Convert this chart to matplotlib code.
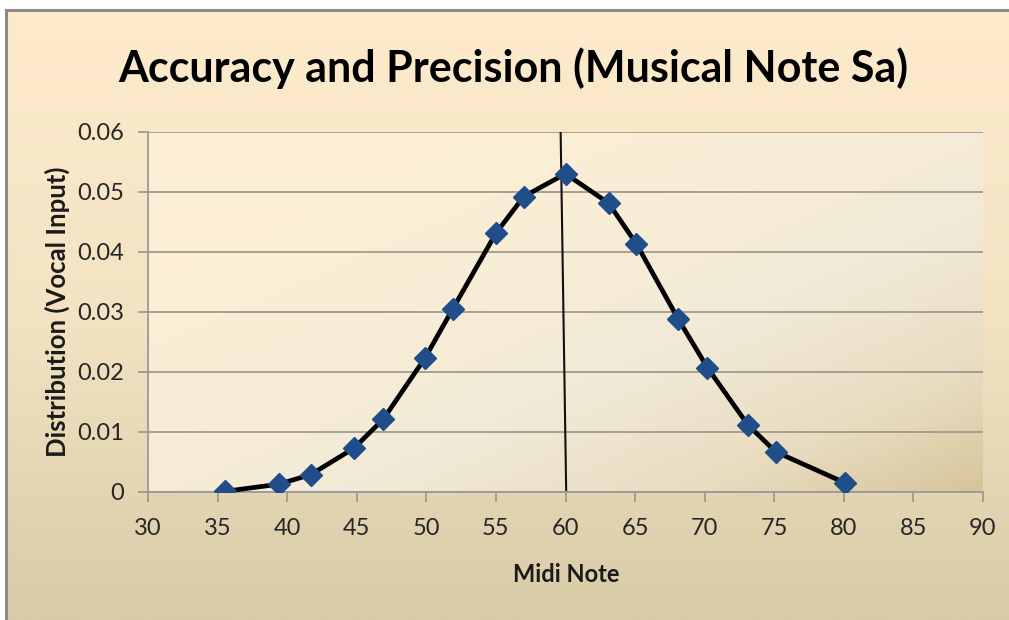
import numpy as np
import matplotlib
matplotlib.use('Agg')
import matplotlib.pyplot as plt
from matplotlib.colors import LinearSegmentedColormap

# Data
midi_note = [35.5, 39.4, 41.7, 44.8, 46.9, 49.9, 51.9, 55.0, 57.0, 60.0,
             63.1, 65.1, 68.1, 70.2, 73.1, 75.1, 80.1]
distribution = [0.0001, 0.0013, 0.0029, 0.0073, 0.0121, 0.0223, 0.0305, 0.0431,
                0.0492, 0.0530, 0.0481, 0.0413, 0.0288, 0.0207, 0.0112, 0.0067,
                0.0015]

# the reference marker line (slightly slanted in the original)
marker_x = [59.65, 60.05]
marker_y = [0.06, 0.0]

x_ticks = [30, 35, 40, 45, 50, 55, 60, 65, 70, 75, 80, 85, 90]
y_ticks = [0, 0.01, 0.02, 0.03, 0.04, 0.05, 0.06]
y_tick_labels = ['0', '0.01', '0.02', '0.03', '0.04', '0.05', '0.06']

plt.rcParams['font.family'] = ['Lato', 'DejaVu Sans']

W, H = 1009, 620
fig = plt.figure(figsize=(W / 100, H / 100), dpi=100)
fig.patch.set_facecolor('white')

# outer chart frame with vertical gradient
bg = fig.add_axes([6 / W, 0, 1 - 6 / W, (H - 10) / H])
bg_cmap = LinearSegmentedColormap.from_list('bg', ['#fdebcc', '#f3e3c3', '#d8cba7'])
grad = np.linspace(0, 1, 256).reshape(-1, 1)
bg.imshow(grad, aspect='auto', cmap=bg_cmap, extent=[0, 1, 0, 1], origin='upper')
bg.set_xticks([])
bg.set_yticks([])
for side in ['left', 'top']:
    bg.spines[side].set_color('#8a8a8a')
    bg.spines[side].set_linewidth(2.2)
for side in ['right', 'bottom']:
    bg.spines[side].set_visible(False)

# plot area
ax = fig.add_axes([148 / W, 1 - 492 / H, (983 - 148) / W, (492 - 131.7) / H])
ax.set_xlim(30, 90)
ax.set_ylim(0, 0.06)

# diagonal gradient for plot area
gx, gy = np.meshgrid(np.linspace(0, 1, 200), np.linspace(0, 1, 200))
t = np.clip((gx + gy) / 2, 0, 1) ** 2.2
area_cmap = LinearSegmentedColormap.from_list('area', ['#fcefd5', '#f2ead8', '#e8dcbf', '#d6c49a'])
ax.imshow(t, aspect='auto', cmap=area_cmap, extent=[30, 90, 0, 0.06],
          origin='upper', zorder=0)

ax.yaxis.grid(True, color='#a09a8e', linewidth=1.3, zorder=1)
ax.set_axisbelow(True)

ax.plot(marker_x, marker_y, color='#111111', linewidth=1.5, zorder=2)
ax.plot(midi_note, distribution, color='black', linewidth=3.4,
        marker='D', markersize=11.5, markerfacecolor='#1f4e8a',
        markeredgecolor='#1f4e8a', zorder=3, solid_joinstyle='round')

ax.set_xticks(x_ticks)
ax.set_yticks(y_ticks)
ax.set_yticklabels(y_tick_labels)
ax.tick_params(axis='both', direction='out', length=7, width=1.3,
               color='#9a9a9a', labelsize=17, labelcolor='#262626')
ax.tick_params(axis='x', pad=12)
ax.tick_params(axis='y', pad=10)

for side in ['top', 'right']:
    ax.spines[side].set_visible(False)
for side in ['left', 'bottom']:
    ax.spines[side].set_color('#9a9a9a')
    ax.spines[side].set_linewidth(1.3)

fig.text(513 / W, 1 - 68 / H, 'Accuracy and Precision (Musical Note Sa)',
         ha='center', va='center', fontsize=31, fontweight='bold', color='black')
fig.text(566 / W, 1 - 575 / H, 'Midi Note', ha='center', va='center',
         fontsize=17, fontweight='bold', color='#1a1a1a')
fig.text(57 / W, 1 - 312 / H, 'Distribution (Vocal Input)', ha='center',
         va='center', rotation=90, fontsize=18.5, fontweight='bold', color='#1a1a1a')

fig.savefig('out.png', dpi=100)
